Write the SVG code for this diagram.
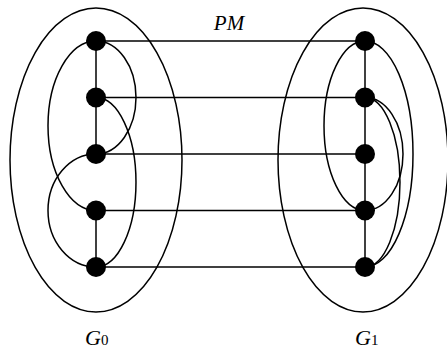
<svg xmlns="http://www.w3.org/2000/svg" width="447" height="351" viewBox="0 0 447 351">
<style>
.e{fill:none;stroke:#000;stroke-width:1.5}
.n{fill:#000}
.t{font-family:"Liberation Serif","Times New Roman",serif;fill:#000}
.i{font-style:italic;font-size:22px}
.s{font-size:15px;font-style:normal}
</style>
<rect width="447" height="351" fill="#fff"/>
<g id="connectors" class="e">
<ellipse cx="96" cy="160" rx="86" ry="152"/>
<ellipse cx="363" cy="160" rx="85" ry="152"/>
<line x1="96" y1="41" x2="365" y2="41"/>
<line x1="96" y1="97.5" x2="365" y2="97.5"/>
<line x1="96" y1="154" x2="365" y2="154"/>
<line x1="96" y1="210.5" x2="365" y2="210.5"/>
<line x1="96" y1="267" x2="365" y2="267"/>
<line x1="96" y1="41" x2="96" y2="154"/>
<line x1="96" y1="210.5" x2="96" y2="267"/>
<line x1="365" y1="41" x2="365" y2="267"/>
<path d="M96,41 A48,84.75 0 0 0 96,210.5"/>
<path d="M96,41 A40,56.5 0 0 1 96,154"/>
<path d="M96,97.5 A40,84.75 0 0 1 96,267"/>
<path d="M96,154 A48,56.5 0 0 0 96,267"/>
<path d="M365,41 A41,84.75 0 0 0 365,210.5"/>
<path d="M365,97.5 A38,56.5 0 0 1 365,210.5"/>
<path d="M365,97.5 A35,84.75 0 0 1 365,267"/>
<path d="M365,41 A48,113 0 0 1 365,267"/>
</g>
<g id="a0"><circle class="n" cx="96" cy="41" r="10"/></g>
<g id="a1"><circle class="n" cx="96" cy="97.5" r="10"/></g>
<g id="a2"><circle class="n" cx="96" cy="154" r="10"/></g>
<g id="a3"><circle class="n" cx="96" cy="210.5" r="10"/></g>
<g id="a4"><circle class="n" cx="96" cy="267" r="10"/></g>
<g id="b0"><circle class="n" cx="365" cy="41" r="10"/></g>
<g id="b1"><circle class="n" cx="365" cy="97.5" r="10"/></g>
<g id="b2"><circle class="n" cx="365" cy="154" r="10"/></g>
<g id="b3"><circle class="n" cx="365" cy="210.5" r="10"/></g>
<g id="b4"><circle class="n" cx="365" cy="267" r="10"/></g>
<g id="labels">
<text class="t i" x="229" y="30" text-anchor="middle" style="font-size:21px">PM</text>
<text class="t i" x="85" y="345">G<tspan class="s">0</tspan></text>
<text class="t i" x="355" y="345">G<tspan class="s">1</tspan></text>
</g>
</svg>
